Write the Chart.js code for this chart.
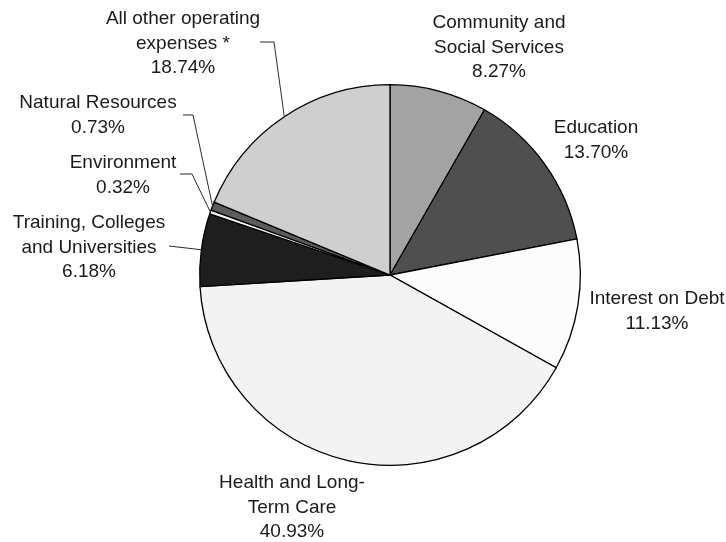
<!DOCTYPE html>
<html>
<head>
<meta charset="utf-8">
<title>Operating expenses by sector</title>
<script src="https://cdn.jsdelivr.net/npm/chart.js@4.4.1/dist/chart.umd.min.js"></script>
<style>
  html, body { margin: 0; padding: 0; background: #ffffff; }
  #wrap { width: 726px; height: 542px; }
</style>
</head>
<body>
<div id="wrap"><canvas id="pie" width="726" height="542"></canvas></div>
<script>
// Sector names (line breaks where the label wraps), clockwise from 12 o'clock
const categories = [
  "Community and\nSocial Services",
  "Education",
  "Interest on Debt",
  "Health and Long-\nTerm Care",
  "Training, Colleges\nand Universities",
  "Environment",
  "Natural Resources",
  "All other operating\nexpenses *"
];

// Share of total operating expenses, in percent
const shares = [8.27, 13.70, 11.13, 40.93, 6.18, 0.32, 0.73, 18.74];

// Grey fill for each sector
const fills = ["#a3a3a3", "#4f4f4f", "#fcfcfc", "#f3f3f3", "#1e1e1e", "#f4f4f4", "#5c5c5c", "#cfcfcf"];

// Where each label block sits (centre of first line) and the bend points of its leader line
const labelLayout = [
  { x: 499, y: 23 },
  { x: 596, y: 128 },
  { x: 657, y: 299 },
  { x: 292, y: 483 },
  { x: 89,  y: 223, leader: [[169, 246]] },
  { x: 123, y: 163, leader: [[180, 174], [192, 174]] },
  { x: 98,  y: 103, leader: [[183, 115], [193, 115]] },
  { x: 183, y: 19,  leader: [[260, 42], [274, 42]] }
];

const LINE_GAP = 24.5;
const LABEL_FONT = '19px "Liberation Sans", Arial, sans-serif';

const sliceLabels = {
  id: 'sliceLabels',
  afterDraw(chart) {
    const ctx = chart.ctx;
    const arcs = chart.getDatasetMeta(0).data;
    ctx.save();
    arcs.forEach((arc, i) => {
      const p = arc.getProps(['x', 'y', 'startAngle', 'endAngle', 'outerRadius'], true);
      const mid = (p.startAngle + p.endAngle) / 2;
      const ax = p.x + Math.cos(mid) * p.outerRadius;
      const ay = p.y + Math.sin(mid) * p.outerRadius;
      const lay = labelLayout[i];

      if (lay.leader) {
        ctx.beginPath();
        ctx.strokeStyle = '#2a2a2a';
        ctx.lineWidth = 1;
        lay.leader.forEach((pt, k) => {
          if (k === 0) ctx.moveTo(pt[0], pt[1]); else ctx.lineTo(pt[0], pt[1]);
        });
        ctx.lineTo(ax, ay);
        ctx.stroke();
      }

      const lines = chart.data.labels[i].split('\n');
      lines.push(chart.data.datasets[0].data[i].toFixed(2) + '%');
      ctx.font = LABEL_FONT;
      ctx.fillStyle = '#1a1a1a';
      ctx.textAlign = 'center';
      ctx.textBaseline = 'middle';
      lines.forEach((t, k) => ctx.fillText(t, lay.x, lay.y + k * LINE_GAP));
    });
    ctx.restore();
  }
};

new Chart(document.getElementById('pie'), {
  type: 'pie',
  data: {
    labels: categories,
    datasets: [{
      data: shares,
      backgroundColor: fills,
      borderColor: '#000000',
      borderWidth: 1.3,
      borderJoinStyle: 'miter'
    }]
  },
  options: {
    responsive: false,
    animation: false,
    events: [],
    layout: { padding: { left: 199, right: 145, top: 84, bottom: 76 } },
    plugins: {
      legend: { display: false },
      tooltip: { enabled: false }
    }
  },
  plugins: [sliceLabels]
});
</script>
</body>
</html>
